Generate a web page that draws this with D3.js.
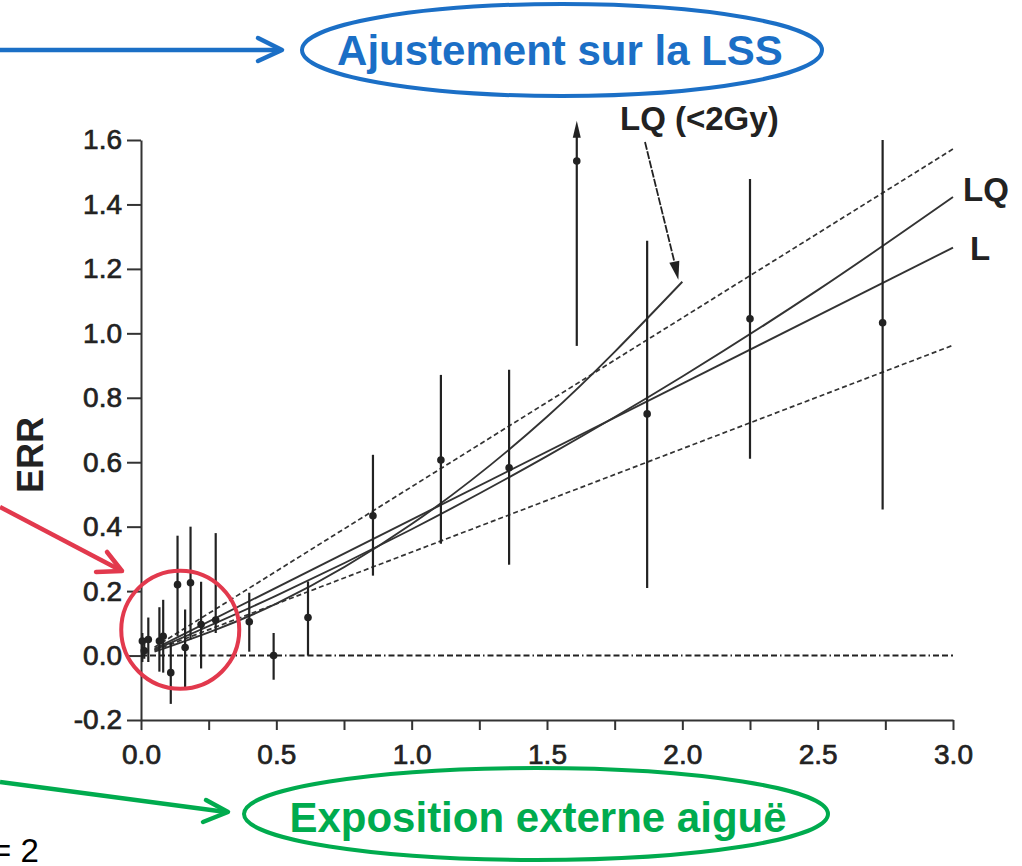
<!DOCTYPE html>
<html>
<head>
<meta charset="utf-8">
<script src="https://cdn.jsdelivr.net/npm/d3@7"></script>
<style>
  body { margin: 0; background: #fff; }
  svg { display: block; font-family: "Liberation Sans", Arial, sans-serif; }
</style>
</head>
<body>
<svg id="chart" width="1022" height="866"></svg>
<script>
// dose (Gy), ERR, lower and upper bound of the error bar
const doses = [0.005, 0.012, 0.027, 0.068, 0.082, 0.11, 0.135, 0.163, 0.183, 0.222, 0.276, 0.40, 0.49, 0.617, 0.857, 1.108, 1.36, 1.61, 1.87, 2.25, 2.74];
const errValues = [0.045, 0.015, 0.05, 0.045, 0.06, -0.053, 0.22, 0.025, 0.226, 0.096, 0.11, 0.105, 0.0, 0.118, 0.434, 0.607, 0.583, 1.535, 0.75, 1.045, 1.033];
const errLow = [-0.02, -0.01, -0.02, -0.05, -0.053, -0.15, 0.06, -0.105, 0.05, -0.04, 0.07, 0.012, -0.075, 0.0, 0.248, 0.347, 0.282, 0.961, 0.21, 0.611, 0.453];
const errHigh = [0.07, 0.05, 0.118, 0.15, 0.173, 0.04, 0.372, 0.143, 0.40, 0.229, 0.38, 0.195, 0.07, 0.23, 0.623, 0.871, 0.887, 1.66, 1.287, 1.479, 1.6];
const openEnded = [false, false, false, false, false, false, false, false, false, false, false, false, false, false, false, false, false, true, false, false, false];

// fitted curves: [dose, ERR]
const fitL = [[0.05, 0.021], [3.0, 1.266]];
const fitLQ = [[0.05, 0.018], [0.5, 0.186], [1.0, 0.392], [1.5, 0.619], [2.0, 0.866], [2.5, 1.134], [3.0, 1.423]];
const fitLQ2Gy = [[0.05, 0.012], [0.5, 0.161], [1.0, 0.408], [1.5, 0.741], [2.0, 1.16]];
const ciUpper = [[0.05, 0.026], [3.0, 1.572]];
const ciLower = [[0.05, 0.016], [3.0, 0.963]];

const xTicks = [0, 0.25, 0.5, 0.75, 1.0, 1.25, 1.5, 1.75, 2.0, 2.25, 2.5, 2.75, 3.0];
const xLabels = [0, 0.5, 1.0, 1.5, 2.0, 2.5, 3.0];
const yTicks = [-0.2, 0, 0.2, 0.4, 0.6, 0.8, 1.0, 1.2, 1.4, 1.6];

const BLUE = "#1b6fc6", GREEN = "#00ab4e", RED = "#e2394d", INK = "#222";

const svg = d3.select("#chart");

const x = d3.scaleLinear().domain([0, 3]).range([141, 953]);
const y = d3.scaleLinear().domain([-0.2, 1.6]).range([720, 140]);

// axes
const yAxis = d3.axisLeft(y)
  .tickValues(yTicks)
  .tickSize(14)
  .tickSizeOuter(0)
  .tickPadding(5)
  .tickFormat((d) => d.toFixed(1));
const xAxis = d3.axisBottom(x)
  .tickValues(xTicks)
  .tickSize(10)
  .tickSizeOuter(0)
  .tickPadding(14)
  .tickFormat((d) => (xLabels.includes(d) ? d.toFixed(1) : ""));

const gy = svg.append("g").attr("transform", "translate(141,0)").call(yAxis);
const gx = svg.append("g").attr("transform", "translate(0,720)").call(xAxis);
[gx, gy].forEach((g) => {
  g.select(".domain").attr("stroke", "#333").attr("stroke-width", 2);
  g.selectAll(".tick line").attr("stroke", "#333").attr("stroke-width", 2);
  g.selectAll(".tick text")
    .attr("fill", INK)
    .attr("stroke", INK)
    .attr("stroke-width", 0.7)
    .style("font-size", "28px");
});

svg.append("text")
  .attr("transform", "translate(43,455) rotate(-90)")
  .attr("text-anchor", "middle")
  .attr("fill", INK)
  .style("font-size", "36px")
  .style("font-weight", "bold")
  .text("ERR");

// zero reference line
svg.append("line")
  .attr("x1", x(0)).attr("x2", x(3))
  .attr("y1", y(0)).attr("y2", y(0))
  .attr("stroke", "#222")
  .attr("stroke-width", 2)
  .attr("stroke-dasharray", "6,3,6,3,6,3,6,3,6,3,1.5,3");

const line = d3.line()
  .x((d) => x(d[0]))
  .y((d) => y(d[1]))
  .curve(d3.curveMonotoneX);

[ciUpper, ciLower].forEach((c) => {
  svg.append("path")
    .attr("d", line(c))
    .attr("fill", "none")
    .attr("stroke", "#333")
    .attr("stroke-width", 1.7)
    .attr("stroke-dasharray", "5,3");
});
[fitL, fitLQ, fitLQ2Gy].forEach((c) => {
  svg.append("path")
    .attr("d", line(c))
    .attr("fill", "none")
    .attr("stroke", "#333")
    .attr("stroke-width", 1.9);
});

// error bars and points
const pts = doses.map((d, i) => ({ d: d, v: errValues[i], lo: errLow[i], hi: errHigh[i], open: openEnded[i] }));
const bars = svg.append("g");
bars.selectAll("line.bar")
  .data(pts)
  .enter()
  .append("line")
  .attr("class", "bar")
  .attr("x1", (p) => x(p.d)).attr("x2", (p) => x(p.d))
  .attr("y1", (p) => y(p.lo)).attr("y2", (p) => (p.open ? y(p.hi) + 14 : y(p.hi)))
  .attr("stroke", INK)
  .attr("stroke-width", 2.2);
bars.selectAll("path.head")
  .data(pts.filter((p) => p.open))
  .enter()
  .append("path")
  .attr("class", "head")
  .attr("d", (p) => {
    const px = x(p.d), py = y(p.hi);
    return `M${px},${py} L${px - 4},${py + 17} L${px + 4},${py + 17} Z`;
  })
  .attr("fill", INK);
bars.selectAll("circle")
  .data(pts)
  .enter()
  .append("circle")
  .attr("cx", (p) => x(p.d))
  .attr("cy", (p) => y(p.v))
  .attr("r", 3.8)
  .attr("fill", INK);

// curve labels
svg.append("text")
  .attr("x", 620).attr("y", 130)
  .attr("fill", INK)
  .style("font-size", "33px").style("font-weight", "bold")
  .text("LQ (<2Gy)");
svg.append("text")
  .attr("x", 963).attr("y", 201)
  .attr("fill", INK)
  .style("font-size", "33px").style("font-weight", "bold")
  .text("LQ");
svg.append("text")
  .attr("x", 970).attr("y", 260)
  .attr("fill", INK)
  .style("font-size", "33px").style("font-weight", "bold")
  .text("L");

// pointer from the LQ (<2Gy) label to the end of its curve
const tipX = x(2.0) - 4, tipY = y(1.16) - 2;
svg.append("line")
  .attr("x1", 645).attr("y1", 142)
  .attr("x2", tipX - 2).attr("y2", tipY - 10)
  .attr("stroke", "#222")
  .attr("stroke-width", 1.8)
  .attr("stroke-dasharray", "8,1.5");
svg.append("path")
  .attr("d", `M${tipX},${tipY} L${tipX - 9},${tipY - 17} L${tipX + 1},${tipY - 19} Z`)
  .attr("fill", "#222");

// annotations
function chevron(tx, ty, ax, ay, bx, by, color) {
  svg.append("path")
    .attr("d", `M${ax},${ay} L${tx},${ty} L${bx},${by}`)
    .attr("fill", "none")
    .attr("stroke", color)
    .attr("stroke-width", 4.5)
    .attr("stroke-linecap", "round")
    .attr("stroke-linejoin", "round");
}

// blue: LSS fit
svg.append("line")
  .attr("x1", 0).attr("y1", 50).attr("x2", 280).attr("y2", 50)
  .attr("stroke", BLUE).attr("stroke-width", 4.5);
chevron(282, 50, 258, 38, 258, 61, BLUE);
svg.append("ellipse")
  .attr("cx", 562).attr("cy", 50).attr("rx", 260).attr("ry", 46)
  .attr("fill", "none").attr("stroke", BLUE).attr("stroke-width", 4);
svg.append("text")
  .attr("x", 560).attr("y", 65)
  .attr("text-anchor", "middle")
  .attr("fill", BLUE)
  .style("font-size", "42px").style("font-weight", "bold")
  .text("Ajustement sur la LSS");

// green: acute external exposure
svg.append("line")
  .attr("x1", 0).attr("y1", 782).attr("x2", 226).attr("y2", 812)
  .attr("stroke", GREEN).attr("stroke-width", 4.5);
chevron(228, 812, 206, 800, 203, 822, GREEN);
svg.append("ellipse")
  .attr("cx", 536).attr("cy", 814).attr("rx", 292).attr("ry", 46)
  .attr("fill", "none").attr("stroke", GREEN).attr("stroke-width", 4);
svg.append("text")
  .attr("x", 538).attr("y", 832)
  .attr("text-anchor", "middle")
  .attr("fill", GREEN)
  .style("font-size", "42px").style("font-weight", "bold")
  .text("Exposition externe aiguë");

// red: low-dose cluster
svg.append("line")
  .attr("x1", 0).attr("y1", 507).attr("x2", 120).attr("y2", 570)
  .attr("stroke", RED).attr("stroke-width", 4.5);
chevron(122, 571, 96, 572, 107, 552, RED);
svg.append("circle")
  .attr("cx", x(0.145)).attr("cy", y(0.08)).attr("r", 59)
  .attr("fill", "none").attr("stroke", RED).attr("stroke-width", 4);

svg.append("text")
  .attr("x", -8).attr("y", 862)
  .attr("fill", "#000")
  .style("font-size", "33px")
  .text("= 2");
</script>
</body>
</html>
